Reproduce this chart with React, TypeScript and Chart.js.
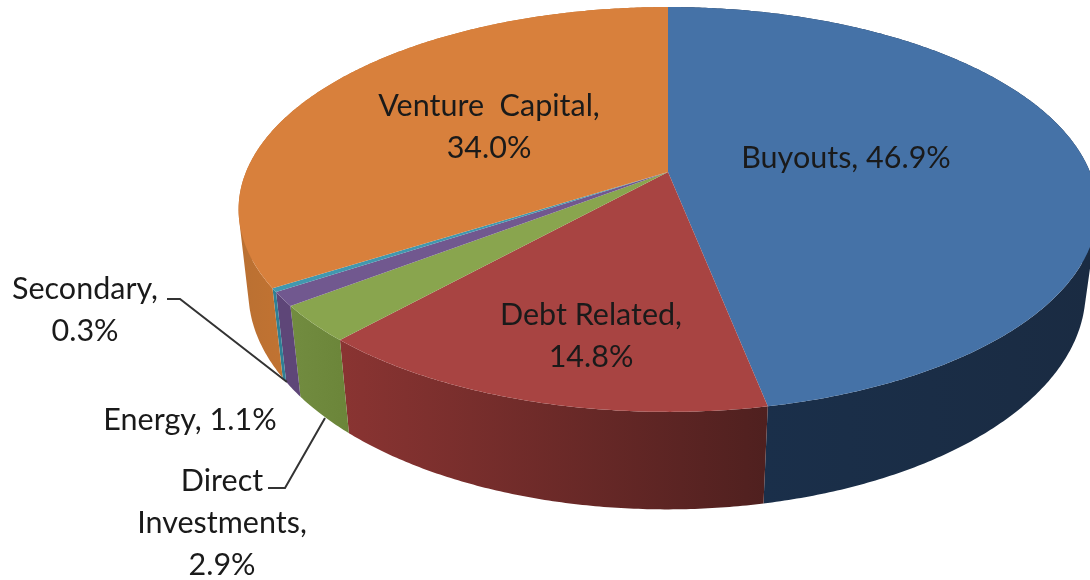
import React, { useEffect, useRef } from "react";
import { Chart, registerables } from "chart.js";

Chart.register(...registerables);

const categories = ["Buyouts", "Debt Related", "Direct Investments", "Energy", "Secondary", "Venture Capital"];
const shares = [46.9, 14.8, 2.9, 1.1, 0.3, 34.0];
const topColors = ["#4572A7", "#A84442", "#89A54E", "#71588F", "#4198AF", "#D8803C"];
const sideFrom = ["#1A2F4A", "#8A3432", "#728C40", "#5E4678", "#2F8095", "#BA7032"];
const sideTo = ["#1A2B42", "#4F201F", "#6B8539", "#5E4678", "#2F8095", "#C47432"];

// one entry per category: text lines (built from the data) and their centres
const labelLines = [
  (c: string, v: string) => [`${c}, ${v}%`],
  (c: string, v: string) => [`${c},`, `${v}%`],
  (c: string, v: string) => ["Direct", "Investments,", `${v}%`],
  (c: string, v: string) => [`${c}, ${v}%`],
  (c: string, v: string) => [`${c},`, `${v}%`],
  (c: string, v: string) => ["Venture  Capital,", `${v}%`],
];
const labelCentres = [
  [846, 158],
  [591, 315],
  [222, 481],
  [190, 420],
  [85, 289],
  [489, 106],
];
const lineGap = 42.3;
const leaders = [
  [[167, 299], [180, 299], [287, 382]],
  [[268, 488], [285, 488], [325, 418]],
];

// perspective of the pie's top and bottom discs
const topDisc = { cx: 668, cy: 172, rx: 422, ry: 195.5, k: 0.185 };
const bottomDisc = { cx: 667, cy: 253, rx: 412, ry: 211, k: 0.177 };

type Disc = typeof topDisc;
const project = (d: Disc, a: number): [number, number] => {
  const w = 1 - d.k * Math.sin(a);
  return [d.cx + (d.rx * Math.cos(a)) / w, d.cy + (d.ry * Math.sin(a)) / w];
};

const pie3d = {
  id: "pie3d",
  beforeDatasetsDraw(chart: any) {
    const ctx: CanvasRenderingContext2D = chart.ctx;
    const arcs = chart.getDatasetMeta(0).data;
    const step = Math.PI / 360;
    ctx.save();
    // rim
    arcs.forEach((arc: any, i: number) => {
      const { startAngle, endAngle } = arc;
      const n = Math.max(1, Math.ceil((endAngle - startAngle) / step));
      let minX = Infinity;
      let maxX = -Infinity;
      ctx.beginPath();
      for (let j = 0; j < n; j++) {
        const a0 = startAngle + ((endAngle - startAngle) * j) / n;
        const a1 = startAngle + ((endAngle - startAngle) * (j + 1)) / n;
        const p = [project(topDisc, a0), project(topDisc, a1), project(bottomDisc, a1), project(bottomDisc, a0)];
        if (Math.sin(a0) > -0.35) {
          p.forEach((q) => {
            minX = Math.min(minX, q[0]);
            maxX = Math.max(maxX, q[0]);
          });
        }
        // keep every quad's winding the same so the union fills without seams
        const area =
          (p[1][0] - p[0][0]) * (p[2][1] - p[0][1]) - (p[1][1] - p[0][1]) * (p[2][0] - p[0][0]);
        const q = area < 0 ? [...p].reverse() : p;
        ctx.moveTo(q[0][0], q[0][1]);
        ctx.lineTo(q[1][0], q[1][1]);
        ctx.lineTo(q[2][0], q[2][1]);
        ctx.lineTo(q[3][0], q[3][1]);
        ctx.closePath();
      }
      const g = ctx.createLinearGradient(minX === Infinity ? 0 : minX, 0, maxX === -Infinity ? 1 : maxX, 0);
      g.addColorStop(0, sideFrom[i]);
      g.addColorStop(1, sideTo[i]);
      ctx.fillStyle = g;
      ctx.fill("nonzero");
    });
    // top face
    arcs.forEach((arc: any) => {
      const { startAngle, endAngle } = arc;
      const n = Math.max(2, Math.ceil((endAngle - startAngle) / step));
      ctx.beginPath();
      ctx.moveTo(topDisc.cx, topDisc.cy);
      for (let j = 0; j <= n; j++) {
        const q = project(topDisc, startAngle + ((endAngle - startAngle) * j) / n);
        ctx.lineTo(q[0], q[1]);
      }
      ctx.closePath();
      ctx.fillStyle = arc.options.backgroundColor;
      ctx.fill();
    });
    // leader lines
    ctx.strokeStyle = "#333333";
    ctx.lineWidth = 2;
    leaders.forEach((pts) => {
      ctx.beginPath();
      pts.forEach((p, j) => (j ? ctx.lineTo(p[0], p[1]) : ctx.moveTo(p[0], p[1])));
      ctx.stroke();
    });
    // labels
    ctx.fillStyle = "#1a1a1a";
    ctx.font = '30.5px Lato, "Open Sans", sans-serif';
    ctx.textAlign = "center";
    ctx.textBaseline = "middle";
    categories.forEach((c, i) => {
      const lines = labelLines[i](c, shares[i].toFixed(1));
      lines.forEach((t, j) => ctx.fillText(t, labelCentres[i][0], labelCentres[i][1] + j * lineGap));
    });
    ctx.restore();
    return false;
  },
};

export default function App() {
  const ref = useRef<HTMLCanvasElement | null>(null);
  useEffect(() => {
    if (!ref.current) return;
    const chart = new Chart(ref.current, {
      type: "pie",
      data: {
        labels: categories,
        datasets: [{ data: shares, backgroundColor: topColors, borderWidth: 0 }],
      },
      options: {
        responsive: false,
        animation: false,
        plugins: { legend: { display: false }, tooltip: { enabled: false } },
      },
      plugins: [pie3d],
    } as any);
    return () => chart.destroy();
  }, []);
  return (
    <canvas
      ref={ref}
      width={1090}
      height={580}
      style={{ position: "fixed", left: 0, top: 0, width: 1090, height: 580, background: "#fff", filter: "blur(0.6px)" }}
    />
  );
}
